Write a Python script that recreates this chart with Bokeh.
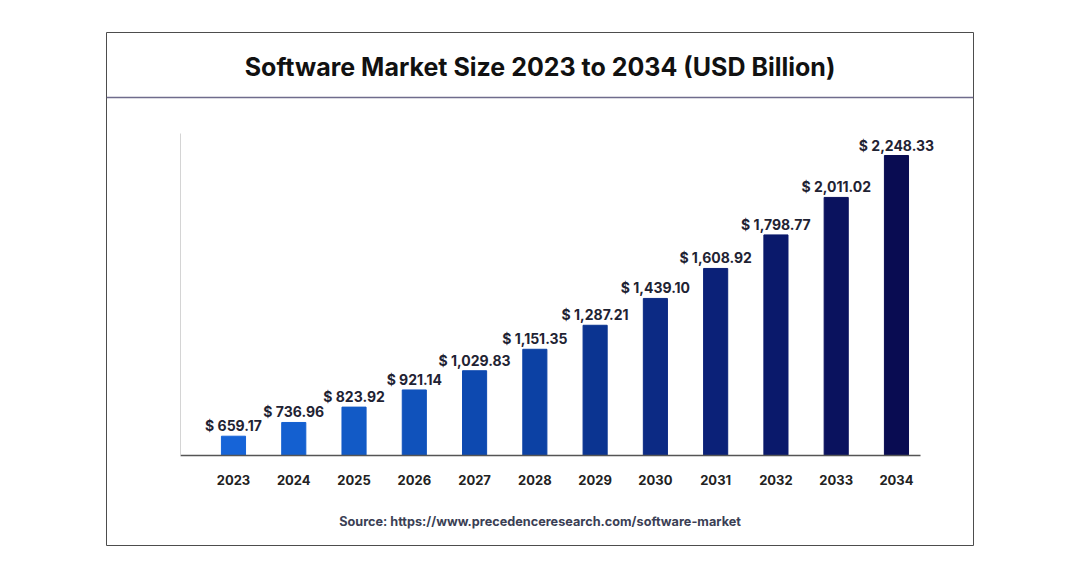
from bokeh.plotting import figure
from bokeh.models import ColumnDataSource, Range1d, LinearAxis, FixedTicker, Label, Span
from bokeh.core.properties import value
from bokeh.embed import file_html
from bokeh.resources import INLINE

years = [2023, 2024, 2025, 2026, 2027, 2028, 2029, 2030, 2031, 2032, 2033, 2034]
market_size = [659.17, 736.96, 823.92, 921.14, 1029.83, 1151.35,
               1287.21, 1439.10, 1608.92, 1798.77, 2011.02, 2248.33]

# blue -> navy, one shade per year
bar_colors = ["#1664d8", "#1460d0", "#125ac6", "#1052bb", "#0d49b0", "#0c41a4",
              "#0b3491", "#0c2a84", "#0b2178", "#0a196b", "#0a125e", "#090c52"]

title_text = "Software Market Size 2023 to 2034 (USD Billion)"
source_text = "Source: https://www.precedenceresearch.com/software-market"

labels = ["$ {:,.2f}".format(v) for v in market_size]
src = ColumnDataSource(data=dict(year=years, size=market_size, label=labels, color=bar_colors))

# bars start from this value (the axis line), not from zero
BASE = 550

# frame = the outer box, ranges chosen so bars land where the original put them
p = figure(width=1064, height=562,
           x_range=Range1d(2020.893, 2035.278), y_range=Range1d(40.5, 2944.7),
           x_axis_location=None, y_axis_location=None,
           min_border_left=106, min_border_right=91, min_border_top=32, min_border_bottom=17,
           output_backend="svg", toolbar_location=None)
p.grid.visible = False
p.outline_line_color = "#4d4d4d"
p.outline_line_width = 1
p.background_fill_color = "white"
p.border_fill_color = "white"

p.vbar(x="year", top="size", bottom=BASE, width=0.4, color="color", source=src)

p.text(x="year", y="size", text="label", source=src, y_offset=-2,
       text_align="center", text_baseline="bottom",
       text_font=value("Inter"), text_font_style="bold", text_font_size="14px",
       text_color="#1f2333")

xaxis = LinearAxis(ticker=FixedTicker(ticks=years), fixed_location=BASE,
                   bounds=(2022.121, 2034.399))
xaxis.axis_line_color = "#555555"
xaxis.axis_line_width = 1.5
xaxis.major_tick_line_color = None
xaxis.minor_tick_line_color = None
xaxis.major_label_standoff = 13
xaxis.major_label_text_font = "Inter"
xaxis.major_label_text_font_style = "bold"
xaxis.major_label_text_font_size = "13px"
xaxis.major_label_text_color = "#222222"
p.add_layout(xaxis, "below")

# plain vertical line, no ticks or labels
yaxis = LinearAxis(ticker=FixedTicker(ticks=[]), fixed_location=2022.121, bounds=(BASE, 2372.8))
yaxis.axis_line_color = "#d4d4d4"
yaxis.axis_line_width = 1
yaxis.major_tick_line_color = None
yaxis.minor_tick_line_color = None
p.add_layout(yaxis, "left")

# line under the title band
p.add_layout(Span(location=2576.6, dimension="width", line_color="#6f6c8c", line_width=1.5))

p.add_layout(Label(x=2028.086, y=2752, text=title_text, text_align="center",
                   text_baseline="middle", text_font="Inter", text_font_style="bold",
                   text_font_size="25px", text_color="#111111"))
p.add_layout(Label(x=2028.086, y=176.4, text=source_text, text_align="center",
                   text_baseline="middle", text_font="Inter", text_font_style="bold",
                   text_font_size="12.7px", text_color="#3b3f55"))

open("out.html", "w").write(file_html(p, INLINE))
